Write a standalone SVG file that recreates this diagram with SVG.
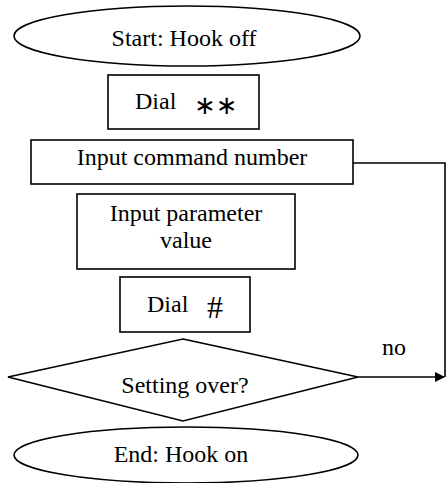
<svg xmlns="http://www.w3.org/2000/svg" width="446" height="483" viewBox="0 0 446 483">
  <defs>
    <style>
      .shape { fill: #ffffff; stroke: #000000; stroke-width: 1.6; }
      .label { font-family: "Liberation Serif", "Times New Roman", serif; font-size: 24px; fill: #000000; text-anchor: middle; }
      .left { text-anchor: start; }
      .sym { font-family: "DejaVu Sans", sans-serif; font-size: 26px; }
      .big { font-size: 32px; }
      .wire { fill: none; stroke: #000000; stroke-width: 1.6; }
    </style>
    <marker id="arrow" markerWidth="10" markerHeight="10" refX="9" refY="5" orient="auto" markerUnits="userSpaceOnUse">
      <path d="M0,0 L10,5 L0,10 Z" fill="#000000"/>
    </marker>
  </defs>
  <rect width="446" height="483" fill="#ffffff"/>

  <g id="start">
    <ellipse class="shape" cx="187" cy="36" rx="173" ry="30"/>
    <text class="label" x="184" y="46">Start: Hook off</text>
  </g>

  <g id="dial-star">
    <rect class="shape" x="108" y="75" width="151" height="54"/>
    <text class="label left" x="135" y="109">Dial</text>
    <text class="label left sym" x="194" y="114">∗∗</text>
  </g>

  <g id="input-command">
    <rect class="shape" x="31" y="140" width="322" height="44"/>
    <text class="label" x="192" y="165">Input command number</text>
  </g>

  <g id="input-parameter">
    <rect class="shape" x="77" y="194" width="218" height="75"/>
    <text class="label" x="186" y="221">Input parameter</text>
    <text class="label" x="186" y="248">value</text>
  </g>

  <g id="dial-hash">
    <rect class="shape" x="120" y="277" width="130" height="55"/>
    <text class="label left" x="147" y="312">Dial</text>
    <text class="label left big" x="207" y="318">#</text>
  </g>

  <g id="setting-over">
    <polygon class="shape" points="183,339 358,377 183,421 8,377"/>
    <text class="label" x="185" y="393">Setting over?</text>
  </g>

  <g id="end">
    <ellipse class="shape" cx="186" cy="455" rx="172" ry="28"/>
    <text class="label" x="181" y="462">End: Hook on</text>
  </g>

  <g id="connectors">
    <polyline class="wire" points="353,163 445,163 445,377"/>
    <line class="wire" x1="358" y1="377" x2="444" y2="377" marker-end="url(#arrow)"/>
    <text class="label" x="394" y="355">no</text>
  </g>
</svg>
